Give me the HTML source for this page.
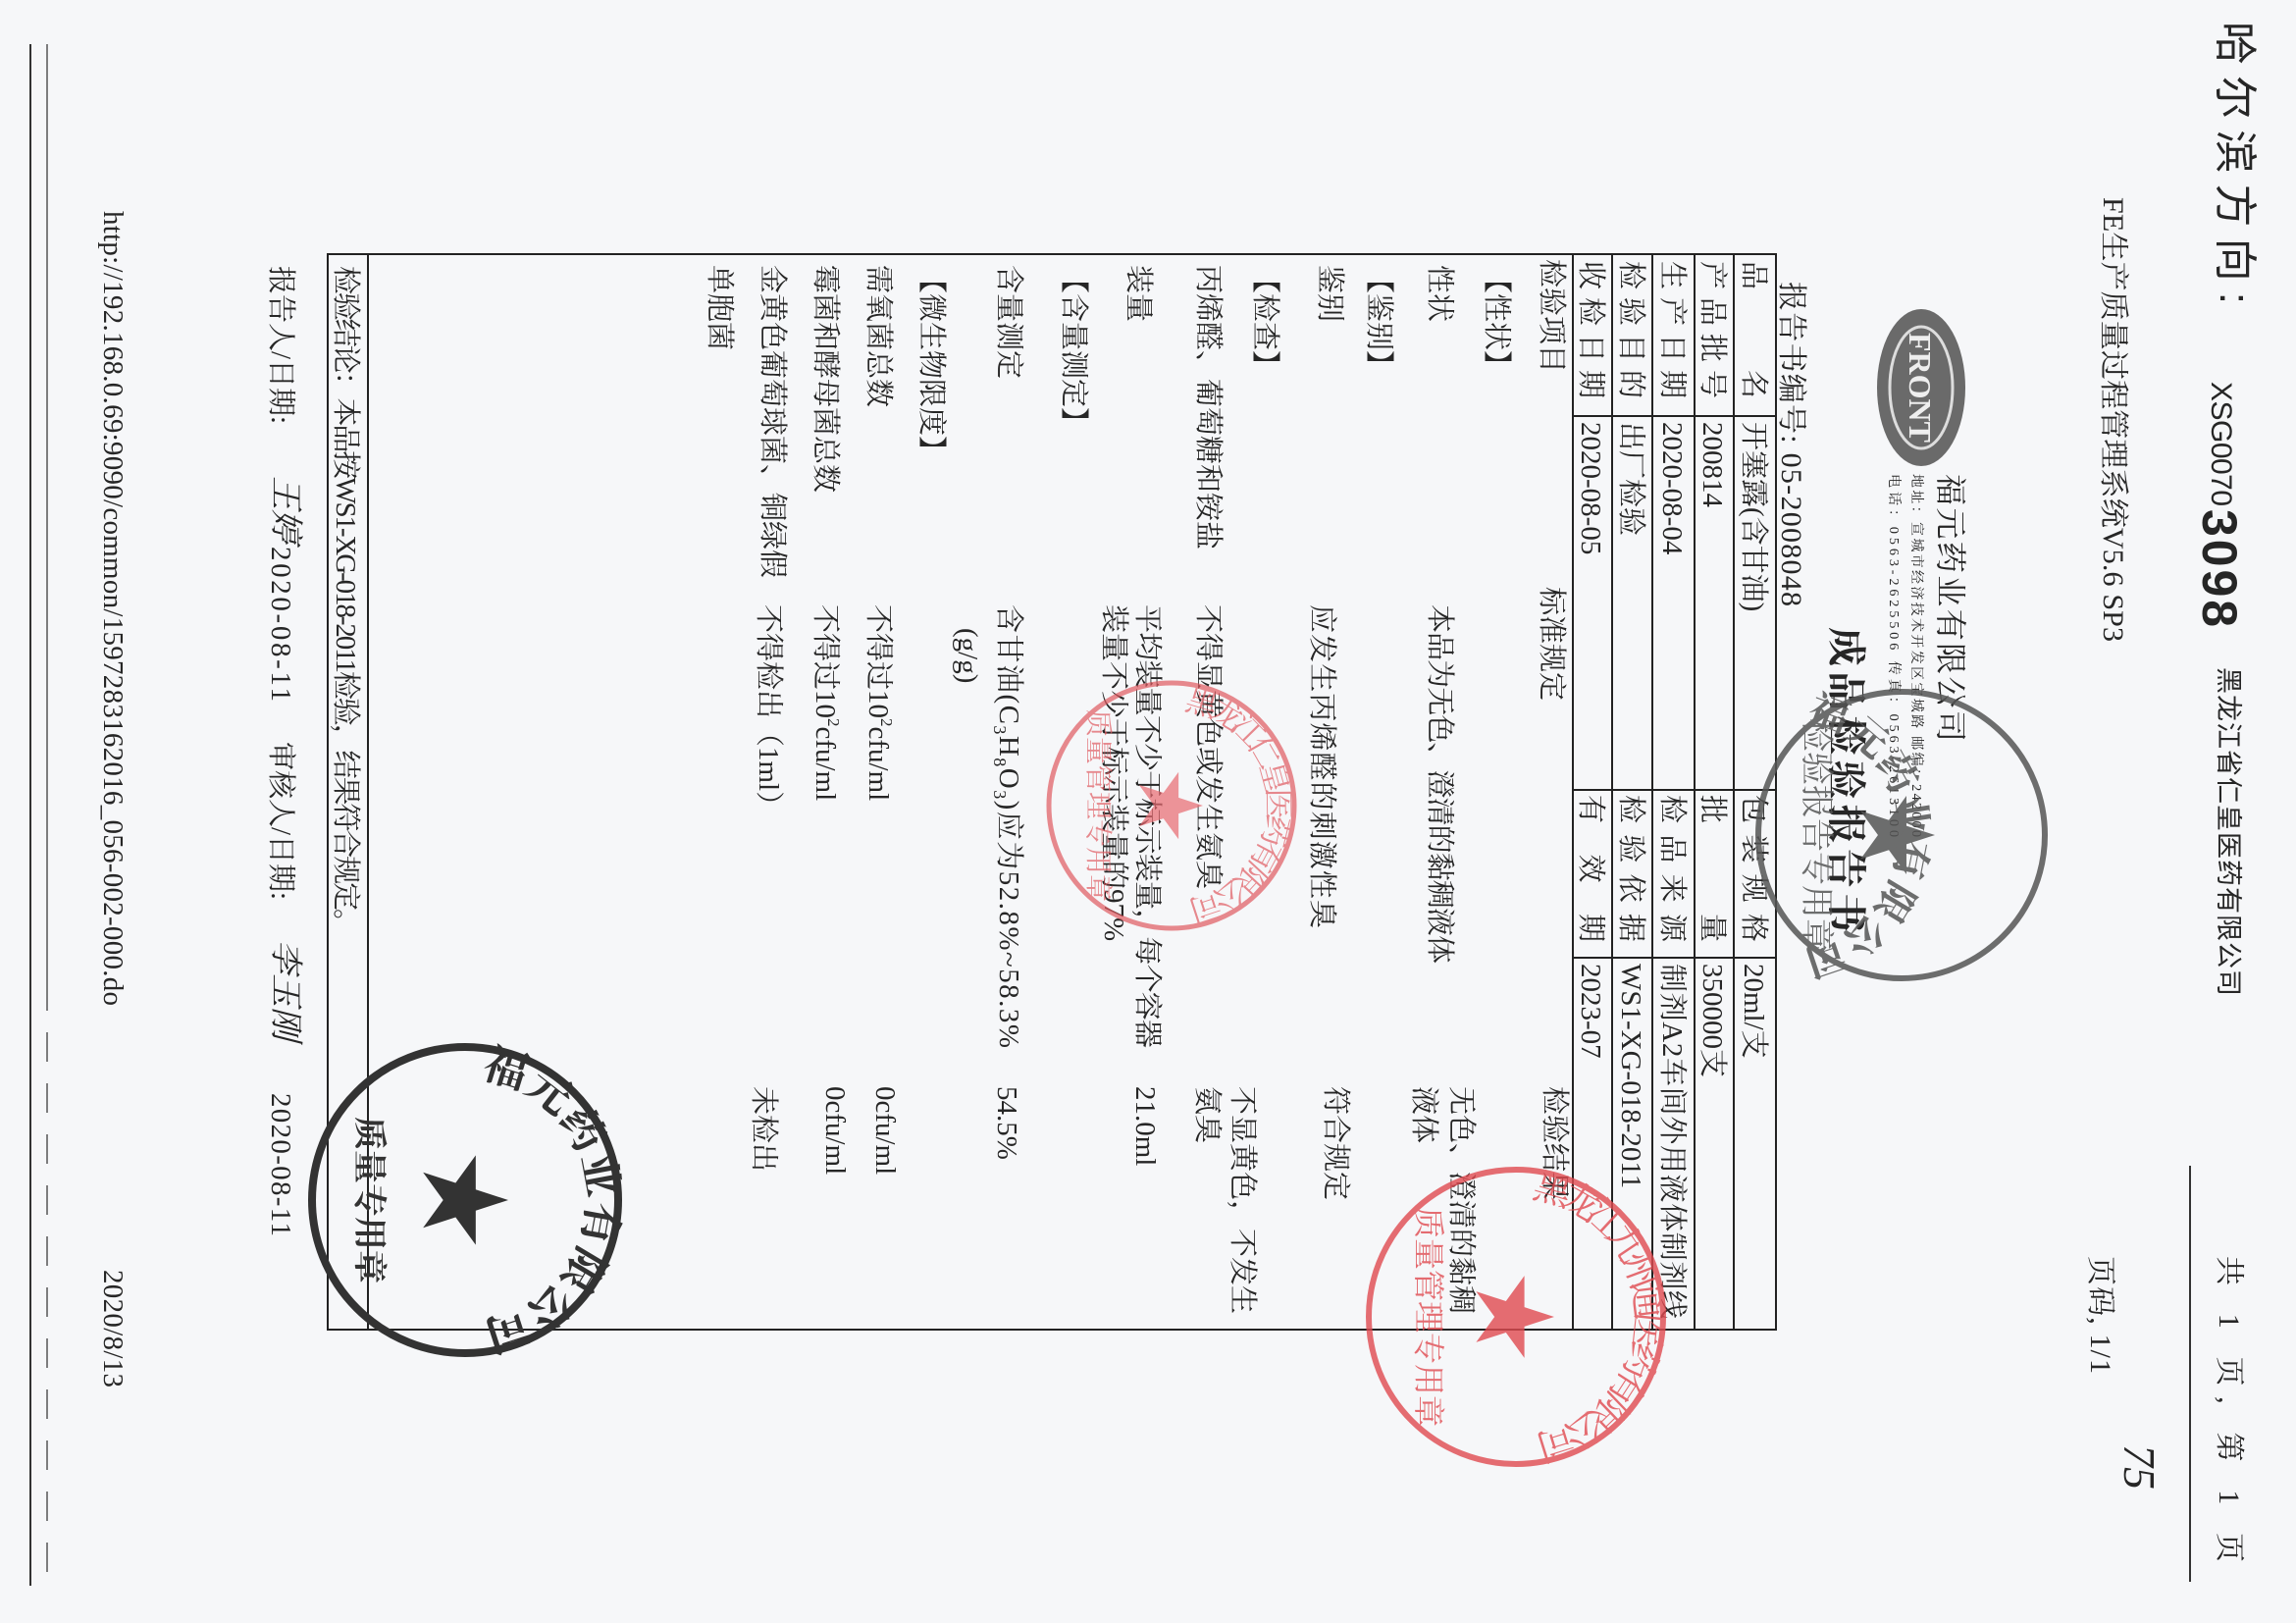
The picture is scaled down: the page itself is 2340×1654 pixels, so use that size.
<!DOCTYPE html>
<html><head><meta charset="utf-8">
<style>
html,body{margin:0;padding:0;background:#f6f7f9;}
svg{display:block}
text{font-family:"Liberation Serif","Noto Serif CJK SC","Noto Sans CJK SC",serif;fill:#262626;}
.s{font-family:"Liberation Sans","Noto Sans CJK SC",sans-serif;}
</style></head>
<body>
<svg width="2340" height="1654" viewBox="0 0 2340 1654" xmlns="http://www.w3.org/2000/svg">
<rect width="2340" height="1654" fill="#f6f7f9"/>
<g transform="translate(2340 0) rotate(90)">
<defs>
<polygon id="star" points="0,-1 0.2245,-0.309 0.951,-0.309 0.3633,0.118 0.5878,0.809 0,0.382 -0.5878,0.809 -0.3633,0.118 -0.951,-0.309 -0.2245,-0.309"/>
<path id="arcG" d="M 851 522 m -118 0 a 118 118 0 1 1 236 0"/>
<path id="arcR1" d="M 821 1146 m -98 0 a 98 98 0 1 1 196 0"/>
<path id="arcR2" d="M 1342 795 m -122 0 a 122 122 0 1 1 244 0"/>
<path id="arcB" d="M 1223 1866 m -125 0 a 125 125 0 1 1 250 0"/>
</defs>

<!-- page border lines (left side of screen) -->
<line x1="45" y1="2309" x2="1616" y2="2309" stroke="#333" stroke-width="2"/>
<line x1="45" y1="2292" x2="1000" y2="2292" stroke="#555" stroke-width="1.5"/>
<line x1="1000" y1="2292" x2="1616" y2="2292" stroke="#555" stroke-width="1.5" stroke-dasharray="30 22"/>

<!-- top header texts -->
<text x="22" y="77" font-size="44" class="s" textLength="288">哈尔滨方向:</text>
<text x="389" y="86" font-size="30" class="s" textLength="127">XSG0070</text>
<text x="519" y="95" font-size="50" font-weight="bold" class="s" textLength="120">3098</text>
<text x="680" y="78" font-size="27" class="s" textLength="335">黑龙江省仁皇医药有限公司</text>
<text x="201" y="196" font-size="30" textLength="453">FE生产质量过程管理系统V5.6 SP3</text>
<text x="1280" y="78" font-size="30" textLength="312">共 1 页, 第 1 页</text>
<line x1="1188" y1="108" x2="1612" y2="108" stroke="#333" stroke-width="2"/>
<text x="1280" y="209" font-size="30" textLength="120">页码, 1/1</text>
<text x="1472" y="175" font-size="46" font-style="italic" fill="#333">75</text>

<!-- logo -->
<ellipse cx="395" cy="382" rx="80" ry="45" fill="#6a6a6a"/>
<ellipse cx="395" cy="382" rx="62" ry="32" fill="none" stroke="#ddd" stroke-width="3"/>
<text x="395" y="394" font-size="32" font-weight="bold" text-anchor="middle" fill="#eee" style="fill:#eee">FRONT</text>

<text x="483" y="363" font-size="32" textLength="273">福元药业有限公司</text>
<text x="483" y="391" font-size="14" textLength="370">地址：宣城市经济技术开发区宝城路 邮编：242000</text>
<text x="483" y="414" font-size="14" textLength="370">电话：0563-2625506 传真：0563-2613100</text>
<text x="639" y="472" font-size="40" font-weight="bold" textLength="311">成品检验报告书</text>
<text x="287" y="524" font-size="30" textLength="331">报告书编号: 05-2008048</text>

<!-- header table -->
<g stroke="#222" stroke-width="2" fill="none">
<rect x="259" y="530" width="1096" height="1476"/>
<line x1="259" y1="573" x2="1355" y2="573"/>
<line x1="259" y1="613" x2="1355" y2="613"/>
<line x1="259" y1="656" x2="1355" y2="656"/>
<line x1="259" y1="697" x2="1355" y2="697"/>
<line x1="259" y1="737" x2="1355" y2="737"/>
<line x1="424" y1="530" x2="424" y2="737"/>
<line x1="805" y1="530" x2="805" y2="737"/>
<line x1="976" y1="530" x2="976" y2="737"/>
<line x1="259" y1="1965" x2="1355" y2="1965"/>
</g>
<g font-size="29">
<text x="266" y="562" textLength="140">品　　名</text>
<text x="430" y="562">开塞露(含甘油)</text>
<text x="810" y="562" textLength="150">包装规格</text>
<text x="982" y="562">20ml/支</text>
<text x="266" y="604" textLength="140">产品批号</text>
<text x="430" y="604">200814</text>
<text x="810" y="604" textLength="150">批　　量</text>
<text x="982" y="604">350000支</text>
<text x="266" y="645" textLength="140">生产日期</text>
<text x="430" y="645">2020-08-04</text>
<text x="810" y="645" textLength="150">检品来源</text>
<text x="982" y="645" textLength="362">制剂A2车间外用液体制剂线</text>
<text x="266" y="687" textLength="140">检验目的</text>
<text x="430" y="687">出厂检验</text>
<text x="810" y="687" textLength="150">检验依据</text>
<text x="982" y="687">WS1-XG-018-2011</text>
<text x="266" y="728" textLength="140">收检日期</text>
<text x="430" y="728">2020-08-05</text>
<text x="810" y="728" textLength="150">有 效 期</text>
<text x="982" y="728">2023-07</text>
</g>

<!-- content -->
<g font-size="29">
<text x="264" y="768">检验项目</text>
<text x="598" y="768">标准规定</text>
<text x="1107" y="765">检验结果</text>
<text x="270" y="824">【性状】</text>
<text x="270" y="882">性状</text>
<text x="616" y="882" textLength="366">本品为无色、澄清的黏稠液体</text>
<text x="1107" y="860">无色、澄清的黏稠</text>
<text x="1107" y="898">液体</text>
<text x="270" y="944">【鉴别】</text>
<text x="270" y="994">鉴别</text>
<text x="616" y="1002" textLength="330">应发生丙烯醛的刺激性臭</text>
<text x="1107" y="988">符合规定</text>
<text x="270" y="1060">【检查】</text>
<text x="270" y="1118">丙烯醛、葡萄糖和铵盐</text>
<text x="616" y="1118">不得显黄色或发生氨臭</text>
<text x="1107" y="1083">不显黄色，不发生</text>
<text x="1107" y="1119">氨臭</text>
<text x="270" y="1189">装量</text>
<text x="616" y="1180" textLength="452">平均装量不少于标示装量，每个容器</text>
<text x="616" y="1214">装量不少于标示装量的97%</text>
<text x="1107" y="1182">21.0ml</text>
<text x="270" y="1255">【含量测定】</text>
<text x="270" y="1321">含量测定</text>
<text x="616" y="1321" textLength="452">含甘油(C<tspan font-size="18" dy="6">3</tspan><tspan dy="-6">H</tspan><tspan font-size="18" dy="6">8</tspan><tspan dy="-6">O</tspan><tspan font-size="18" dy="6">3</tspan><tspan dy="-6">)应为52.8%~58.3%</tspan></text>
<text x="640" y="1363">(g/g)</text>
<text x="1107" y="1323">54.5%</text>
<text x="270" y="1400">【微生物限度】</text>
<text x="270" y="1454">需氧菌总数</text>
<text x="616" y="1454">不得过10<tspan font-size="17" dy="-12">2</tspan><tspan dy="12">cfu/ml</tspan></text>
<text x="1107" y="1447">0cfu/ml</text>
<text x="270" y="1508">霉菌和酵母菌总数</text>
<text x="616" y="1508">不得过10<tspan font-size="17" dy="-12">2</tspan><tspan dy="12">cfu/ml</tspan></text>
<text x="1107" y="1498">0cfu/ml</text>
<text x="270" y="1562">金黄色葡萄球菌、铜绿假</text>
<text x="616" y="1566">不得检出（1ml）</text>
<text x="1107" y="1571">未检出</text>
<text x="270" y="1616">单胞菌</text>
<text x="271" y="1997" textLength="684">检验结论：本品按WS1-XG-018-2011检验，结果符合规定。</text>
<text x="271" y="2063">报告人/日期:</text>
<text x="485" y="2060" font-size="34" font-style="italic" fill="#333">王婷</text>
<text x="557" y="2063" textLength="158">2020-08-11</text>
<text x="756" y="2063">审核人/日期:</text>
<text x="958" y="2060" font-size="34" font-style="italic" fill="#333">李玉刚</text>
<text x="1114" y="2063" textLength="146">2020-08-11</text>
</g>
<text x="215" y="2234" font-size="29" textLength="810">http://192.168.0.69:9090/common/1597283162016_056-002-000.do</text>
<text x="1294" y="2234" font-size="29" textLength="120">2020/8/13</text>

<!-- stamps -->
<g opacity="0.85">
<circle cx="851" cy="402" r="146" fill="none" stroke="#555" stroke-width="6"/>
<use href="#star" transform="translate(851 410) scale(42)" fill="#555"/>
<text font-size="40" font-weight="bold" style="fill:#555"><textPath href="#arcG" startOffset="6%" textLength="330">福元药业有限公司</textPath></text>
<text x="851" y="500" font-size="34" text-anchor="middle" style="fill:#555">检验报告专用章</text>
</g>
<g opacity="0.7">
<circle cx="821" cy="1146" r="125" fill="none" stroke="#e05a60" stroke-width="5"/>
<use href="#star" transform="translate(821 1150) scale(36)" fill="#e86a70"/>
<text font-size="32" style="fill:#e05a60"><textPath href="#arcR1" startOffset="4%" textLength="280">黑龙江仁皇医药有限公司</textPath></text>
<text x="821" y="1230" font-size="28" text-anchor="middle" style="fill:#e05a60">质量管理专用章</text>
</g>
<g opacity="0.8">
<circle cx="1342" cy="795" r="150" fill="none" stroke="#e04a50" stroke-width="6"/>
<use href="#star" transform="translate(1342 800) scale(44)" fill="#e04a50"/>
<text font-size="38" style="fill:#e04a50"><textPath href="#arcR2" startOffset="4%" textLength="350">黑龙江九州通医药有限公司</textPath></text>
<text x="1342" y="895" font-size="32" text-anchor="middle" style="fill:#e04a50">质量管理专用章</text>
</g>
<g>
<circle cx="1223" cy="1866" r="156" fill="none" stroke="#333" stroke-width="8"/>
<use href="#star" transform="translate(1223 1870) scale(48)" fill="#333"/>
<text font-size="44" font-weight="bold" style="fill:#333"><textPath href="#arcB" startOffset="4%" textLength="360">福元药业有限公司</textPath></text>
<text x="1223" y="1975" font-size="34" font-weight="bold" text-anchor="middle" style="fill:#333">质量专用章</text>
</g>
</g>
</svg>
</body></html>
